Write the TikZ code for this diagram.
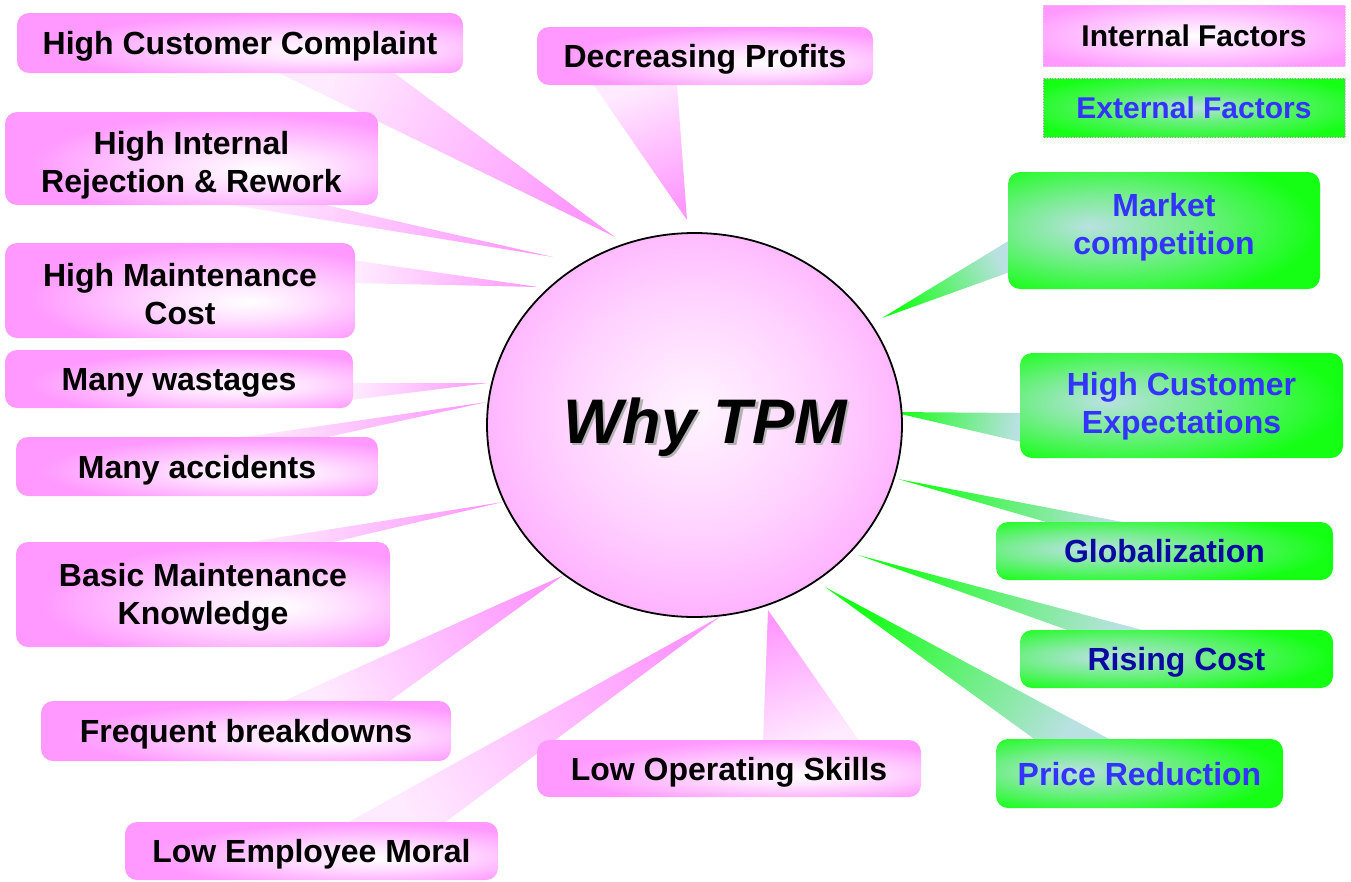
\documentclass[tikz,border=0pt]{standalone}
\usepackage{fontspec}
\setmainfont{Liberation Sans}
\usetikzlibrary{calc,shapes.geometric}
\definecolor{pinkc}{RGB}{255,153,255}
\definecolor{greenc}{RGB}{20,255,20}
\definecolor{tealc}{RGB}{185,225,225}
\definecolor{bluet}{RGB}{51,51,255}
\definecolor{navyt}{RGB}{10,10,160}
\pgfdeclareradialshading{pinkglow}{\pgfpoint{10bp}{-6bp}}{color(0bp)=(white); color(10bp)=(pinkc!30); color(28bp)=(pinkc); color(80bp)=(pinkc)}
\pgfdeclareradialshading{greenglow}{\pgfpoint{-12bp}{2bp}}{color(0bp)=(tealc); color(14bp)=(tealc!60!greenc); color(32bp)=(greenc); color(80bp)=(greenc)}
\pgfdeclareradialshading{ballglow}{\pgfpoint{0bp}{2bp}}{color(0bp)=(pinkc!10); color(16bp)=(pinkc!45); color(30bp)=(pinkc!85); color(42bp)=(pinkc); color(80bp)=(pinkc)}
\pgfdeclareradialshading{legpink}{\pgfpoint{0bp}{0bp}}{color(0bp)=(white); color(12bp)=(pinkc!40); color(30bp)=(pinkc); color(80bp)=(pinkc)}
\pgfdeclareradialshading{leggreen}{\pgfpoint{0bp}{0bp}}{color(0bp)=(tealc); color(12bp)=(tealc!50!greenc); color(30bp)=(greenc); color(80bp)=(greenc)}
\newcommand\wedgeshape[5]{%
  \coordinate (wa) at #1; \coordinate (wb) at #2; \coordinate (wt) at #3;
  \coordinate (wm) at ($(wa)!0.5!(wb)$);
  \pgfmathanglebetweenpoints{\pgfpointanchor{wm}{center}}{\pgfpointanchor{wt}{center}}%
  \pgfmathsetmacro\wang{\pgfmathresult-90}%
  \path[top color=#5, bottom color=#4, shading angle=\wang] (wa) -- (wt) -- (wb) -- cycle;
}
\tikzset{
  boxbase/.style={rectangle, rounded corners=12pt, inner sep=0pt, align=center,
    font=\fontsize{32}{38}\selectfont\bfseries, text height=23pt, text depth=0pt},
  inbox/.style={boxbase, shading=pinkglow, text=black},
  exbox/.style={boxbase, shading=greenglow, text=bluet},
  legbox/.style={rectangle, inner sep=0pt, draw=pinkc!70, densely dotted, line width=0.6pt,
    font=\fontsize{30}{36}\selectfont\bfseries, minimum width=302pt, text height=21.5pt, text depth=0pt},
}
\begin{document}
\begin{tikzpicture}[x=1pt,y=-1pt]
\useasboundingbox (0,0) rectangle (1351,881);
% wedges
\wedgeshape{(277,72)}{(393,72)}{(615,237)}{pinkc!20}{pinkc}
\wedgeshape{(593,84)}{(677,84)}{(687,220)}{pinkc!20}{pinkc}
\wedgeshape{(220,203)}{(317,203)}{(553,257)}{pinkc!20}{pinkc}
\wedgeshape{(352,260)}{(352,283)}{(538,287)}{pinkc!20}{pinkc}
\wedgeshape{(351,383)}{(351,400)}{(488,383)}{pinkc!20}{pinkc}
\wedgeshape{(237,438)}{(323,438)}{(487,402)}{pinkc!20}{pinkc}
\wedgeshape{(237,544)}{(325,544)}{(503,502)}{pinkc!20}{pinkc}
\wedgeshape{(279,703)}{(387,703)}{(564,575)}{pinkc!20}{pinkc}
\wedgeshape{(345,824)}{(443,824)}{(721,616)}{pinkc!20}{pinkc}
\wedgeshape{(763,742)}{(860,742)}{(768,610)}{pinkc!20}{pinkc}
\wedgeshape{(1010,240)}{(1010,272)}{(882,318)}{tealc}{greenc}
\wedgeshape{(1021,413)}{(1021,442)}{(892,412)}{tealc}{greenc}
\wedgeshape{(1053,524)}{(1133,524)}{(898,479)}{tealc}{greenc}
\wedgeshape{(1073,632)}{(1150,632)}{(858,555)}{tealc}{greenc}
\wedgeshape{(1037,741)}{(1113,741)}{(825,587)}{tealc}{greenc}
% internal factor boxes
\node[inbox, minimum width=446pt, minimum height=60pt] (hcc) at (240,43) {High Customer Complaint};
\node[inbox, minimum width=336pt, minimum height=58pt] (dp) at (705,56) {Decreasing Profits};
\node[inbox, text height=68pt, text depth=0pt, minimum width=373pt, minimum height=93pt] (hirr) at (191.5,158.5) {High Internal\\Rejection \& Rework};
\node[inbox, text height=67pt, text depth=0pt, minimum width=350pt, minimum height=95pt] (hmc) at (180,290.5) {High Maintenance\\Cost};
\node[inbox, minimum width=348pt, minimum height=58pt] (mw) at (179,379) {Many wastages};
\node[inbox, minimum width=362pt, minimum height=59pt] (ma) at (197,466.5) {Many accidents};
\node[inbox, text height=61pt, text depth=2pt, minimum width=374pt, minimum height=105pt] (bmk) at (203,594.5) {Basic Maintenance\\Knowledge};
\node[inbox, minimum width=410pt, minimum height=60pt] (fb) at (246,731) {Frequent breakdowns};
\node[inbox, minimum width=373pt, minimum height=58pt] (lem) at (311.5,851) {Low Employee Moral};
\node[inbox, minimum width=384pt, minimum height=57pt] (los) at (729,768.5) {Low Operating Skills};
% external factor boxes
\node[exbox, text height=61pt, text depth=14pt, minimum width=312pt, minimum height=117pt] (mc) at (1164,230.5) {Market\\competition};
\node[exbox, text height=61pt, text depth=5pt, minimum width=323pt, minimum height=105pt] (hce) at (1181.5,405.5) {High Customer\\Expectations};
\node[exbox, text=navyt, minimum width=337pt, minimum height=58pt] (gl) at (1164.5,551) {Globalization};
\node[exbox, text=navyt, minimum width=313pt, minimum height=58pt] (rc) at (1176.5,659) {Rising Cost};
\node[exbox, minimum width=287pt, minimum height=69pt] (pr) at (1139.5,773.5) {Price Reduction};
% legend
\node[legbox, shading=legpink, text=black, minimum height=61pt] (legin) at (1194,35.5) {Internal Factors};
\node[legbox, shading=leggreen, text=bluet, minimum height=59pt] (legex) at (1194,107.5) {External Factors};
% central ellipse
\node[ellipse, minimum width=415pt, minimum height=384pt, inner sep=0pt, shading=ballglow, draw=black, line width=1.8pt] (why) at (694.5,425) {};
\node[anchor=base, text=black!30, font=\fontsize{63}{70}\selectfont\bfseries\itshape] (whysh) at (707.5,445.5) {Why TPM};
\node[anchor=base, text=black, font=\fontsize{63}{70}\selectfont\bfseries\itshape] (whyt) at (705,443) {Why TPM};
\end{tikzpicture}
\end{document}
